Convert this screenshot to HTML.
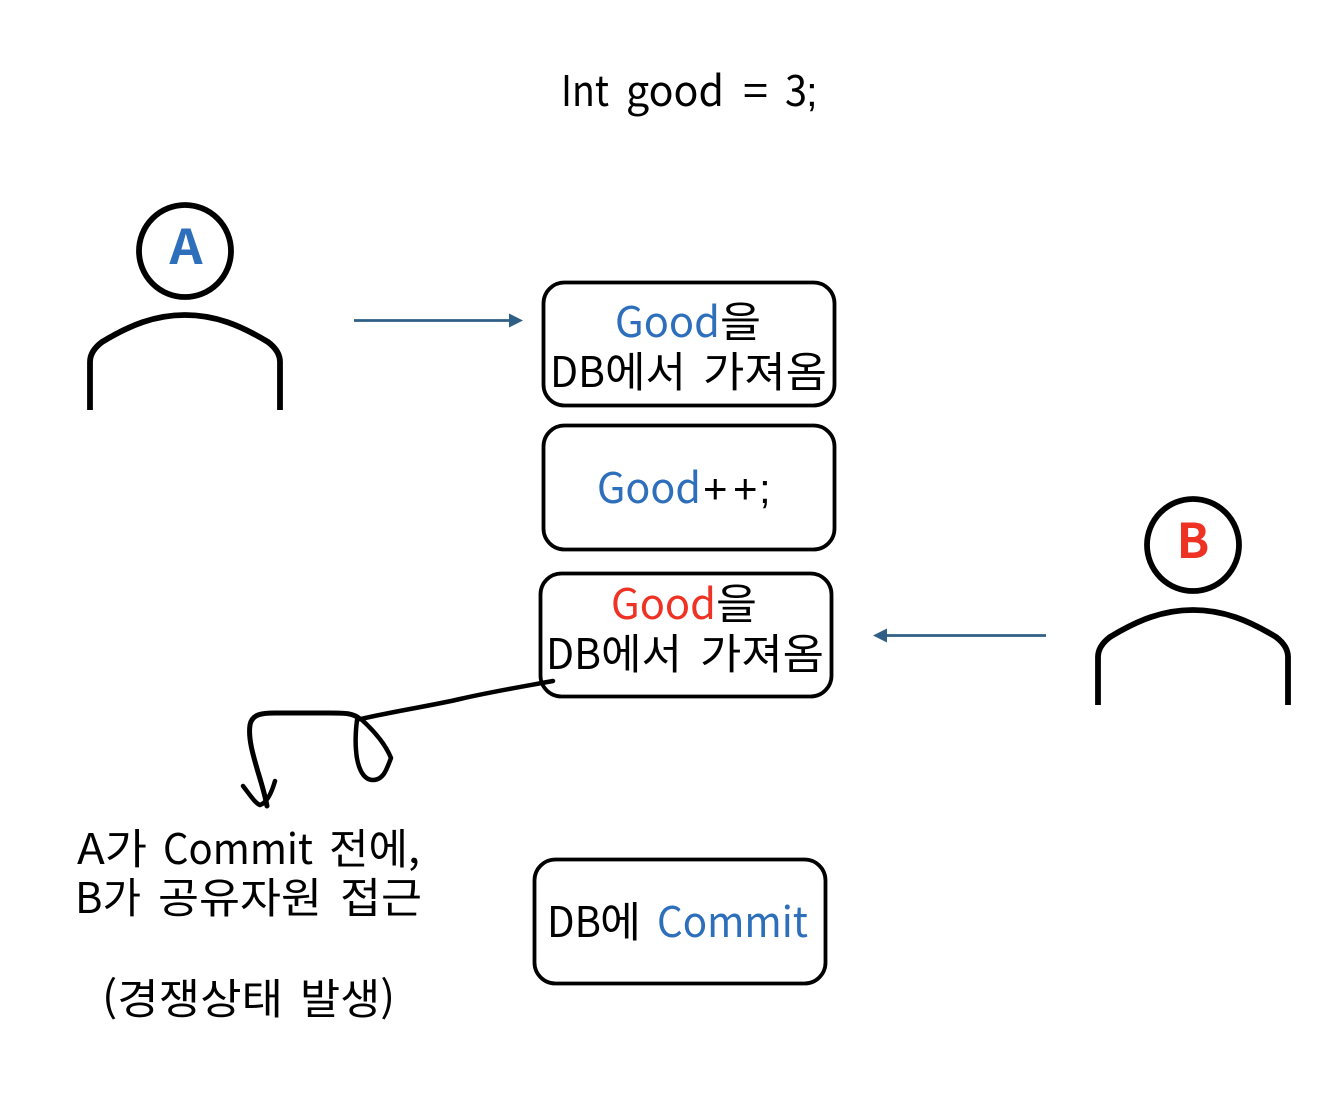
<!DOCTYPE html>
<html lang="ko">
<head>
<meta charset="utf-8">
<title>Race condition diagram</title>
<style>
html,body{margin:0;padding:0;background:#fff;}
svg{display:block;}
text{font-family:"Noto Sans CJK KR","Liberation Sans",sans-serif;font-size:42px;fill:#000;font-weight:400;}
.l{font-family:"Liberation Sans",sans-serif;}
.b{fill:#2e6fbc;}
.r{fill:#ee3224;}
.box{fill:#fff;stroke:#000;stroke-width:3.8;}
.st{fill:none;stroke:#000;stroke-width:5.8;}
.ink{fill:none;stroke:#000;stroke-linecap:round;stroke-linejoin:round;}
</style>
</head>
<body>
<svg width="1324" height="1102" viewBox="0 0 1324 1102" xmlns="http://www.w3.org/2000/svg">
<text x="561" y="106" textLength="48" lengthAdjust="spacingAndGlyphs">Int</text>
<text x="626" y="106" textLength="98" lengthAdjust="spacingAndGlyphs">good</text>
<text x="743" y="106" textLength="25" lengthAdjust="spacingAndGlyphs">=</text>
<text x="785" y="106" textLength="22" lengthAdjust="spacingAndGlyphs">3</text>
<text x="806" y="106" class="l">;</text>

<!-- Person A -->
<circle cx="185" cy="251" r="46" class="st"/>
<text x="186" y="264" text-anchor="middle" class="b" style="font-size:48px;font-weight:700" textLength="33" lengthAdjust="spacingAndGlyphs">A</text>
<path d="M90 410V362Q90 351 102 342C130 325 155 315 185 315S240 325 268 342Q280 351 280 362V410" class="st"/>

<!-- Person B -->
<circle cx="1193" cy="545" r="46" class="st"/>
<text x="1193" y="558" text-anchor="middle" class="r" style="font-size:48px;font-weight:700">B</text>
<path d="M1098 705V657Q1098 646 1110 637C1138 620 1163 610 1193 610S1248 620 1276 637Q1288 646 1288 657V705" class="st"/>

<!-- Arrows -->
<path d="M354 320.500H510" stroke="#2f5f85" stroke-width="2.800" fill="none"/>
<path d="M523 320.500L509 313.500V327.500Z" fill="#2f5f85"/>
<path d="M1046 635.500H886" stroke="#2f5f85" stroke-width="2.800" fill="none"/>
<path d="M873 635.500L887 628.500V642.500Z" fill="#2f5f85"/>

<!-- Boxes -->
<rect x="543.500" y="282.500" width="291" height="123" rx="21" class="box"/>
<text x="615" y="337" textLength="105" lengthAdjust="spacingAndGlyphs" class="b">Good</text>
<text x="720" y="337" textLength="41" lengthAdjust="spacingAndGlyphs">을</text>
<text x="550" y="387" textLength="55" lengthAdjust="spacingAndGlyphs">DB</text>
<text x="605" y="387" textLength="81" lengthAdjust="spacingAndGlyphs">에서</text>
<text x="703" y="387" textLength="124" lengthAdjust="spacingAndGlyphs">가져옴</text>

<rect x="543.500" y="425.500" width="291" height="124" rx="21" class="box"/>
<text x="597" y="503" textLength="104" lengthAdjust="spacingAndGlyphs" class="b">Good</text>
<text x="703" y="503" class="l">+</text>
<text x="733" y="503" class="l">+</text>
<text x="759" y="503" class="l">;</text>

<rect x="540.500" y="573.500" width="291" height="123" rx="21" class="box"/>
<text x="611" y="619" textLength="105" lengthAdjust="spacingAndGlyphs" class="r">Good</text>
<text x="716" y="619" textLength="41" lengthAdjust="spacingAndGlyphs">을</text>
<text x="546" y="669" textLength="55" lengthAdjust="spacingAndGlyphs">DB</text>
<text x="601" y="669" textLength="81" lengthAdjust="spacingAndGlyphs">에서</text>
<text x="700" y="669" textLength="124" lengthAdjust="spacingAndGlyphs">가져옴</text>

<rect x="534.500" y="859.500" width="291" height="124" rx="21" class="box"/>
<text x="547" y="937" textLength="54" lengthAdjust="spacingAndGlyphs">DB</text>
<text x="600" y="937" textLength="41" lengthAdjust="spacingAndGlyphs">에</text>
<text x="657" y="937" textLength="151" lengthAdjust="spacingAndGlyphs" class="b">Commit</text>

<!-- Hand-drawn line -->
<path class="ink" stroke-width="4.500" d="M553 681C520 687 490 692 460 699C430 706 395 711 361 719C372 729 385 743 391 758C387 768 384 780 373 780C362 780 357 765 356 750C355 738 356 728 357 720"/>
<path class="ink" stroke-width="5" d="M360 719C353 713 345 713 330 713L275 713C262 713 252 714 250 725C248 738 253 755 258 772C262 785 265 795 267 806"/>
<path class="ink" stroke-width="4.500" d="M243 786C250 795 255 803 260 805C266 803 271 795 275 781"/>

<!-- Left label -->
<text x="77" y="864" textLength="70" lengthAdjust="spacingAndGlyphs">A가</text>
<text x="163" y="864" textLength="150" lengthAdjust="spacingAndGlyphs">Commit</text>
<text x="329" y="864" textLength="91" lengthAdjust="spacingAndGlyphs">전에,</text>
<text x="75" y="913" textLength="66" lengthAdjust="spacingAndGlyphs">B가</text>
<text x="158" y="913" textLength="164" lengthAdjust="spacingAndGlyphs">공유자원</text>
<text x="340" y="913" textLength="82" lengthAdjust="spacingAndGlyphs">접근</text>
<text x="102" y="1014" textLength="181" lengthAdjust="spacingAndGlyphs">(경쟁상태</text>
<text x="300" y="1014" textLength="95" lengthAdjust="spacingAndGlyphs">발생)</text>
</svg>
</body>
</html>
